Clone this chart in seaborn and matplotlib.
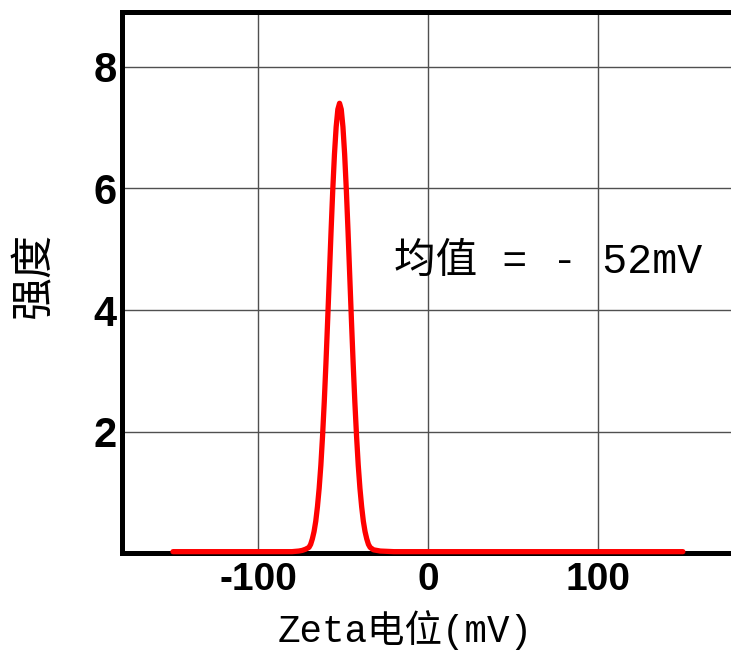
import matplotlib
matplotlib.use("Agg")
import matplotlib.pyplot as plt
import seaborn as sns
import pandas as pd

# Data
zeta_mv = [-150, -100, -80, -76, -74, -72, -70, -69, -68, -67, -66, -65, -64, -63,
           -62, -61, -60, -59, -58, -57, -56, -55, -54, -53, -52, -51, -50, -49,
           -48, -47, -46, -45, -44, -43, -42, -41, -40, -39, -38, -37, -36, -35,
           -34, -32, -28, -20, 0, 50, 100, 150]
intensity = [0.03, 0.03, 0.03, 0.04, 0.05, 0.07, 0.10, 0.15, 0.24, 0.36, 0.53,
             0.77, 1.07, 1.45, 1.93, 2.49, 3.13, 3.83, 4.56, 5.29, 5.97, 6.56,
             7.01, 7.30, 7.40, 7.30, 7.01, 6.56, 5.97, 5.29, 4.56, 3.83, 3.13,
             2.49, 1.93, 1.45, 1.07, 0.77, 0.53, 0.36, 0.24, 0.15, 0.10, 0.06,
             0.04, 0.03, 0.03, 0.03, 0.03, 0.03]
x_ticks = [-100, 0, 100]
y_ticks = [2, 4, 6, 8]
annotation = "均值 = - 52mV"
x_label = "Zeta电位(mV)"
y_label = "强度"

df = pd.DataFrame({"zeta": zeta_mv, "intensity": intensity})

sns.set_theme(style="white")
plt.rcParams['font.family'] = ['Liberation Sans', 'Noto Sans CJK SC', 'DejaVu Sans']
plt.rcParams['text.color'] = 'black'
plt.rcParams['axes.labelcolor'] = 'black'
plt.rcParams['xtick.color'] = 'black'
plt.rcParams['ytick.color'] = 'black'

fig = plt.figure(figsize=(7.31, 6.53), dpi=100)
ax = fig.add_axes([0.1669, 0.1524, 0.837, 0.8292])

sns.lineplot(data=df, x="zeta", y="intensity", ax=ax, color="#ff0000",
             linewidth=3.8, zorder=5, clip_on=False,
             solid_joinstyle="round", solid_capstyle="round")

ax.set_xlim(-180, 180)
ax.set_ylim(0, 8.9)
ax.set_xticks(x_ticks)
ax.set_xticklabels([str(t) for t in x_ticks])
ax.set_yticks(y_ticks)
ax.set_yticklabels([str(t) for t in y_ticks])

ax.grid(True, color="#505050", linewidth=1.0)
ax.set_axisbelow(True)

for s in ["left", "top", "bottom", "right"]:
    ax.spines[s].set_visible(True)
    ax.spines[s].set_color("black")
    ax.spines[s].set_linewidth(3.6)

ax.tick_params(axis="y", which="both", direction="out", length=3, width=1,
               color="#505050", pad=1)
ax.tick_params(axis="x", which="both", direction="out", length=2, width=1,
               color="#505050", pad=4)
for lab in ax.get_yticklabels():
    lab.set_fontsize(30)
    lab.set_fontweight("bold")
    lab.set_color("black")
    lab.set_family(["Liberation Sans", "DejaVu Sans"])
for lab in ax.get_xticklabels():
    lab.set_fontsize(28)
    lab.set_fontweight("bold")
    lab.set_color("black")
    lab.set_family(["Liberation Sans", "DejaVu Sans"])

ax.set_xlabel(x_label, fontsize=27, family=["Liberation Mono", "Noto Sans CJK SC"],
              color="black")
ax.xaxis.set_label_coords(0.462, -0.105)
ax.set_ylabel(y_label, fontsize=31, family=["Noto Sans CJK SC"], color="black")
ax.yaxis.set_label_coords(-0.108, 0.514)

ax.text(-20, 4.8, annotation, fontsize=30, ha="left", va="center",
        family=["Liberation Mono", "Noto Sans CJK SC"], color="black", zorder=6)

fig.savefig("out.png", dpi=100)
